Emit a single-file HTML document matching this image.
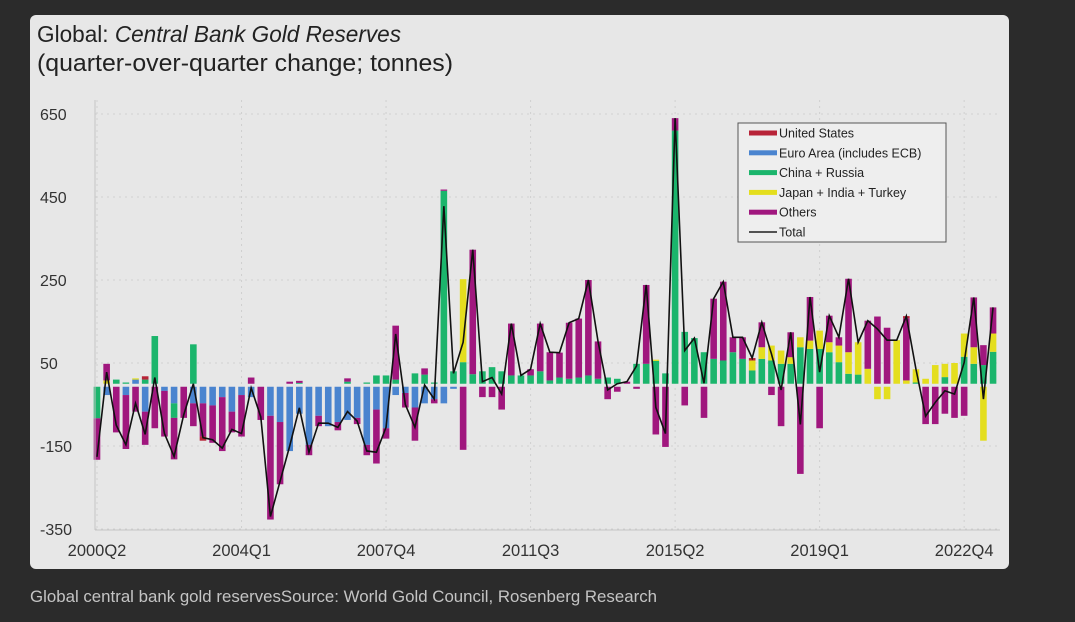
<!DOCTYPE html>
<html><head><meta charset="utf-8"><style>
body{margin:0;width:1075px;height:622px;background:#2b2b2b;overflow:hidden;font-family:"Liberation Sans",sans-serif}
#card{position:absolute;left:30px;top:15px;width:979px;height:554px;background:#e7e7e7;border-radius:6px}
svg{position:absolute;left:0;top:0}
</style></head><body>
<div id="card"></div>
<svg id="chart" width="1075" height="622">
<text x="37" y="42" font-size="23" fill="#222" textLength="364" lengthAdjust="spacingAndGlyphs">Global: <tspan font-style="italic">Central Bank Gold Reserves</tspan></text>
<text x="37" y="71" font-size="24" fill="#222" textLength="416" lengthAdjust="spacingAndGlyphs">(quarter-over-quarter change; tonnes)</text>
<g id="grid"></g><g id="bars"></g><g id="line"></g><g id="axes"></g>
<g>
<rect x="738" y="123" width="208" height="119" fill="#eeeeee" stroke="#555" stroke-width="1"/>
<g id="leg"></g>
</g>
<text x="30" y="602" font-size="16.5" fill="#c4c4c4" textLength="627" lengthAdjust="spacingAndGlyphs">Global central bank gold reservesSource: World Gold Council, Rosenberg Research</text>
</svg>
<script>
const us=[0,0,0,0,0,8,0,0,0,0,0,-10,0,0,0,0,0,0,0,0,0,0,0,0,0,0,0,0,0,0,0,0,0,0,0,0,0,0,0,0,0,0,0,0,0,0,0,0,0,0,0,0,0,0,0,0,0,0,0,0,0,0,0,0,0,0,0,0,6,0,0,0,0,0,0,0,0,0,0,0,0,0,0,0,5,0,0,0,0,0,0,0,0,0];
const euro=[0,-20,0,-20,10,-60,0,-10,-40,0,-40,-40,-45,-25,-60,-20,-25,0,-70,-85,-155,-65,-140,-70,-95,-85,-80,-75,-140,-55,-100,-20,-15,-50,-40,-30,-40,-5,0,0,0,0,0,0,0,0,0,0,0,0,0,0,0,0,0,0,0,0,0,0,0,0,0,0,0,0,0,0,0,0,0,0,0,0,0,0,0,0,0,0,0,0,0,0,0,0,0,0,0,0,0,0,0,0];
const china=[-76,0,10,3,0,10,115,0,-35,0,95,0,0,0,0,0,0,0,0,0,0,2,0,0,0,0,5,0,3,20,20,10,0,25,22,3,465,30,52,23,30,40,30,20,20,20,30,8,15,12,15,20,12,15,12,0,48,48,55,25,610,125,110,76,60,56,76,60,32,60,56,48,48,88,84,84,76,52,24,22,0,0,0,0,0,3,0,0,16,0,65,48,45,77];
const jit=[0,8,0,0,3,0,0,0,0,0,0,0,0,0,0,0,0,0,0,0,0,0,0,0,0,0,0,0,0,0,0,0,0,0,0,0,0,0,200,0,0,0,0,0,0,0,0,0,0,0,0,0,0,0,0,0,0,0,3,0,0,0,0,0,0,0,0,0,24,28,36,32,16,24,20,44,24,40,52,78,36,-30,-30,105,8,32,12,45,32,50,56,40,-130,44];
const others=[-100,40,-110,-130,-60,-80,-100,-110,-100,-75,-55,-80,-90,-130,-50,-100,15,-80,-250,-150,5,5,-25,-25,0,-20,8,-15,-25,-130,-25,130,-35,-80,15,-10,3,0,-152,300,-25,-25,-55,125,0,15,115,68,60,135,142,230,90,-30,-12,5,-5,190,-115,-145,30,-45,0,-75,145,190,36,52,0,60,-20,-95,60,-210,105,-100,64,20,177,0,116,162,135,0,150,0,-90,-90,-65,-75,-70,120,48,63];
const yTicks=[650,450,250,50,-150,-350];
const xLabels=["2000Q2","2004Q1","2007Q4","2011Q3","2015Q2","2019Q1","2022Q4"];
const xLabelIdx=[0,15,30,45,60,75,90];
const series=[
 {name:"euro",data:euro,color:"#4a84cf"},
 {name:"china",data:china,color:"#1bb56c"},
 {name:"jit",data:jit,color:"#e4de1e"},
 {name:"others",data:others,color:"#a0177e"},
 {name:"us",data:us,color:"#b82338"}];
const NS="http://www.w3.org/2000/svg";
const X=i=>97+i*9.635;
const Y=v=>383.75-v*0.415;
function mk(tag,attrs,parent){const e=document.createElementNS(NS,tag);for(const k in attrs)e.setAttribute(k,attrs[k]);parent.appendChild(e);return e;}
const grid=document.getElementById('grid'),bars=document.getElementById('bars'),axes=document.getElementById('axes');
yTicks.forEach(t=>{
 const l=mk('line',{x1:95,x2:1000,y1:Y(t),y2:Y(t),stroke:'#d0d0d0','stroke-dasharray':'2,4'},grid);
 
 
 const tx=mk('text',{x:40,y:Y(t)+6,'font-size':16,fill:'#333'},axes);tx.textContent=t;
 
 
});
xLabels.forEach((s,k)=>{
 const x=X(xLabelIdx[k]);
 const l=mk('line',{x1:x,x2:x,y1:100,y2:529,stroke:'#d0d0d0','stroke-dasharray':'2,4'},grid);
 
 
 const tx=mk('text',{x:x,y:556,'font-size':16.5,fill:'#333','text-anchor':'middle'},axes);tx.textContent=s;
 
 
});
const ax=mk('line',{x1:95,x2:95,y1:100,y2:530,stroke:'#c4c4c4'},axes);


const bx=mk('line',{x1:95,x2:1000,y1:530,y2:530,stroke:'#c4c4c4'},axes);


const totals=[];
for(let i=0;i<euro.length;i++){
 let pos=0,neg=0,tot=0;
 series.forEach(s=>{
  const v=s.data[i];tot+=v;if(!v)return;
  let y1,y2;
  if(v>0){y1=Y(pos+v);y2=Y(pos);pos+=v;}else{y1=Y(neg)+3;y2=Y(neg+v)+3;neg+=v;}
  const r=mk('rect',{x:X(i)-3.3,y:y1,width:6.6,height:Math.max(0.8,y2-y1),fill:s.color},bars);
  
  
 });
 totals.push(tot);
}
const pl=mk('polyline',{points:totals.map((v,i)=>X(i)+','+Y(v)).join(' '),fill:'none',stroke:'#111','stroke-width':1.6},document.getElementById('line'));


const leg=document.getElementById('leg');
const legNames=["United States","Euro Area (includes ECB)","China + Russia","Japan + India + Turkey","Others","Total"];
const legCols=["#b82338","#4a84cf","#1bb56c","#e4de1e","#a0177e","#111"];
legNames.forEach((n,k)=>{
 const y=133+k*19.8;
 const sw=mk('rect',{x:749,y:k==5?y-0.7:y-2.5,width:28,height:k==5?1.4:5,fill:legCols[k]},leg);
 
 
 const t=mk('text',{x:779,y:y+4.5,'font-size':12.5,fill:'#222'},leg);t.textContent=n;
 
 
});
</script>
</body></html>
